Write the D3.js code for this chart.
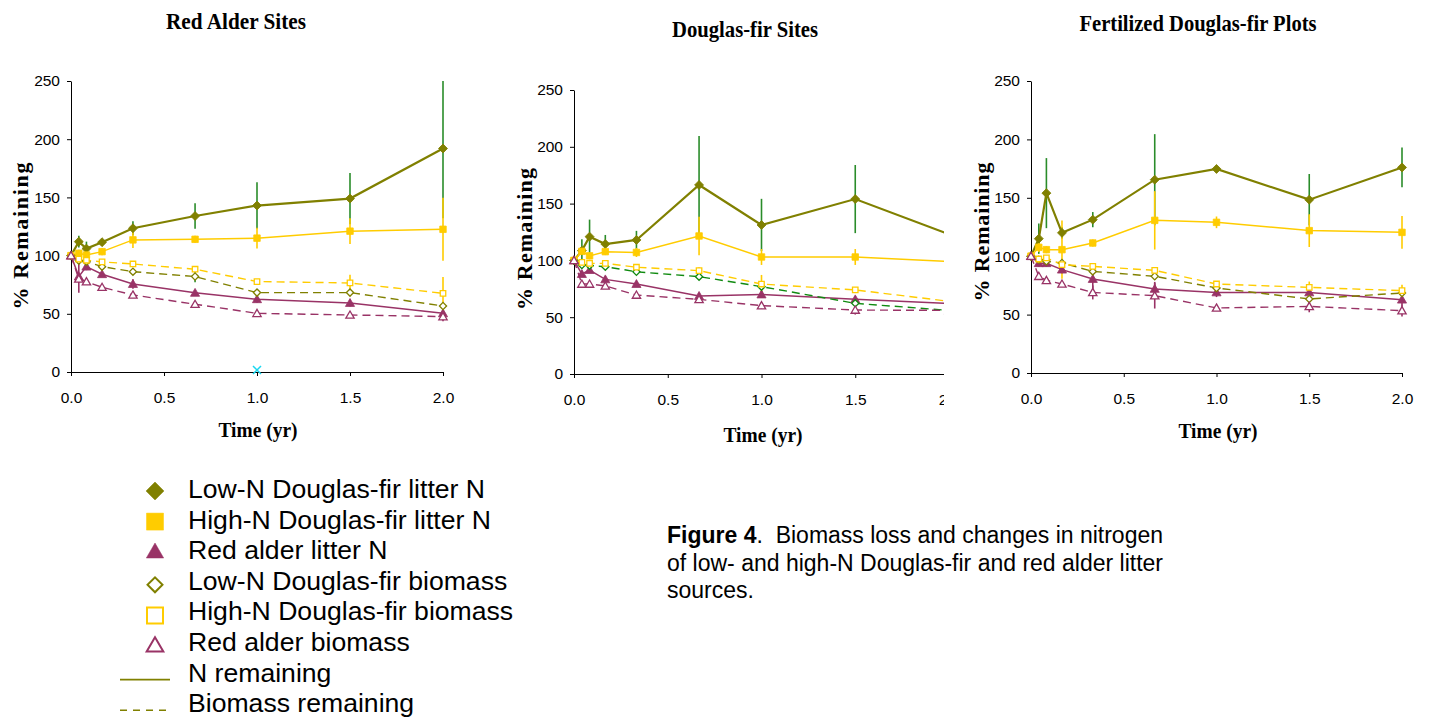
<!DOCTYPE html>
<html>
<head>
<meta charset="utf-8">
<script src="https://cdn.jsdelivr.net/npm/d3@7"></script>
<style>
  body { margin: 0; background: #fff; }
  svg { display: block; }
  .tick text { font-family: "Liberation Sans", Arial, sans-serif; font-size: 15.5px; fill: #000; }
  .tick line, .domain { stroke: #000; stroke-width: 1px; }
</style>
</head>
<body>
<script>
// time points (yr)
const times = [0, 0.042, 0.083, 0.167, 0.333, 0.667, 1, 1.5, 2];
const xTicks = [0, 0.5, 1, 1.5, 2];
const yTicks = [0, 50, 100, 150, 200, 250];
const panelTitles = ["Red Alder Sites", "Douglas-fir Sites", "Fertilized Douglas-fir Plots"];
const legendLabels = [
  "Low-N Douglas-fir litter N", "High-N Douglas-fir litter N", "Red alder litter N",
  "Low-N Douglas-fir biomass", "High-N Douglas-fir biomass", "Red alder biomass",
  "N remaining", "Biomass remaining"
];

// Red Alder Sites
const raLowN      = [100, 112, 106, 111.5, 123.5, 134, 143, 149, 192];
const raLowNErr   = [0, 5, 6, 3, 6, 11, 20, 22, 60];
const raHighN     = [100, 102, 100.5, 103.4, 113.5, 114, 115, 121, 122.6];
const raHighNErr  = [0, 3, 3, 3, 7, 3, 9, 11, 27];
const raAlderN    = [100, 82, 90.5, 84, 75.6, 68, 62.5, 59.3, 50.4];
const raAlderNErr = [0, 14, 3, 2, 4, 2, 3, 3, 3];
const raLowB      = [100, 95.7, 94.8, 90.5, 86.2, 82, 68.2, 68.2, 56.7];
const raLowBErr   = [0, 2, 2, 3, 2, 5, 2, 2, 2];
const raHighB     = [100, 97, 96, 94.6, 92.8, 88.3, 77.7, 76.5, 67.6];
const raHighBErr  = [0, 2, 2, 2, 2, 2, 2, 7, 14];
const raAlderB    = [100, 80, 77.6, 72.8, 66.2, 58.2, 50.4, 49, 47.6];
const raAlderBErr = [0, 2, 2, 2, 2, 2, 2, 2, 4];

// Douglas-fir Sites
const dfLowN      = [100, 108.6, 120.9, 114.4, 118, 166.4, 131.2, 154, 123];
const dfLowNErr   = [0, 10, 15, 8, 8, 43, 23, 30, 20];
const dfHighN     = [100, 108, 104, 107.7, 107, 121.5, 103, 103, 99];
const dfHighNErr  = [0, 3, 3, 3, 4, 17, 7, 7, 4];
const dfAlderN    = [100, 88, 91.5, 83.3, 79.2, 68.7, 70, 65.7, 62];
const dfAlderNErr = [0, 2, 2, 3, 2, 2, 3, 3, 2];
const dfLowB      = [100, 96, 95.4, 94.5, 90, 85.7, 76.9, 62.2, 56];
const dfLowBErr   = [0, 3, 2, 3, 2, 2, 2, 3, 2];
const dfHighB     = [100, 98.3, 97.4, 97.4, 94, 91, 79.2, 74, 64];
const dfHighBErr  = [0, 2, 2, 2, 2, 3, 8, 2, 2];
const dfAlderB    = [100, 79.2, 79.2, 77.5, 69.5, 65.7, 60.2, 56.3, 56];
const dfAlderBErr = [0, 2, 2, 2, 2, 3, 3, 4, 2];

// Fertilized Douglas-fir Plots
const fdLowN      = [100, 115, 154, 120, 131.3, 165.5, 174.7, 148.4, 176];
const fdLowNErr   = [0, 13, 30, 5, 6.5, 39, 2, 22, 17];
const fdHighN     = [100, 107.6, 105.6, 105.6, 111.3, 130.7, 129, 121.9, 120.4];
const fdHighNErr  = [0, 4, 3, 25, 3, 25, 5, 14, 14];
const fdAlderN    = [100, 94, 94, 88.5, 80.5, 72, 69, 69, 62.8];
const fdAlderNErr = [0, 3, 3, 3, 8, 6, 4, 7, 5];
const fdLowB      = [100, 97, 95.6, 94.2, 87, 82.8, 72.8, 63.4, 68.5];
const fdLowBErr   = [0, 2, 2, 2, 2, 3, 2, 2, 2];
const fdHighB     = [100, 97.6, 98.5, 92.8, 91.3, 87.9, 76.2, 73.3, 70.5];
const fdHighBErr  = [0, 2, 2, 2, 2, 2, 2, 5, 5];
const fdAlderB    = [100, 82.8, 79.3, 76.2, 69, 66.2, 55.7, 57, 53.4];
const fdAlderBErr = [0, 2, 2, 2, 6, 11, 2, 5, 5];

// stray marker in the first panel (time, value)
const strayPoint = [1, 0];

const panelValues = [
  [raLowN, raHighN, raAlderN, raLowB, raHighB, raAlderB],
  [dfLowN, dfHighN, dfAlderN, dfLowB, dfHighB, dfAlderB],
  [fdLowN, fdHighN, fdAlderN, fdLowB, fdHighB, fdAlderB]
];
const panelErrors = [
  [raLowNErr, raHighNErr, raAlderNErr, raLowBErr, raHighBErr, raAlderBErr],
  [dfLowNErr, dfHighNErr, dfAlderNErr, dfLowBErr, dfHighBErr, dfAlderBErr],
  [fdLowNErr, fdHighNErr, fdAlderNErr, fdLowBErr, fdHighBErr, fdAlderBErr]
];

/** look of each series */
const OLIVE = "#808000", YELLOW = "#ffcc00", PURPLE = "#993366", GREEN = "#2a8c2a";
const styles = [
  {color: OLIVE,  err: GREEN,  shape: "diamond",  filled: true,  dash: null,  width: 2.2, size: 40},
  {color: YELLOW, err: YELLOW, shape: "square",   filled: true,  dash: null,  width: 1.5, size: 42},
  {color: PURPLE, err: PURPLE, shape: "triangle", filled: true,  dash: null,  width: 1.5, size: 36},
  {color: OLIVE,  err: GREEN,  shape: "diamond",  filled: false, dash: "8,5", width: 1.4, size: 26},
  {color: YELLOW, err: YELLOW, shape: "square",   filled: false, dash: "8,5", width: 1.4, size: 30},
  {color: PURPLE, err: PURPLE, shape: "triangle", filled: false, dash: "8,5", width: 1.4, size: 30}
];

/** where each panel sits on the page */
const layout = [
  {x0: 71,   x1: 443,  y0: 372, y1: 81, titleX: 236,  titleY: 29, titleW: 140, yLabX: 28,  yLabY: 236, yLabW: 147, tX: 258,  tY: 437, lowBColor: OLIVE, clip: null},
  {x0: 574,  x1: 949,  y0: 374, y1: 90, titleX: 745,  titleY: 37, titleW: 146, yLabX: 532, yLabY: 239, yLabW: 142, tX: 763,  tY: 442, lowBColor: "#108a10", clip: 944},
  {x0: 1031, x1: 1402, y0: 373, y1: 81, titleX: 1198, titleY: 31, titleW: 237, yLabX: 989, yLabY: 232, yLabW: 139, tX: 1218, tY: 438, lowBColor: OLIVE, clip: null}
];

const svg = d3.select("body").append("svg")
  .attr("width", 1429)
  .attr("height", 719);

function symbolPath(shape, size) {
  let type = d3.symbolSquare;
  if (shape === "triangle") type = d3.symbolTriangle;
  return d3.symbol().type(type).size(size)();
}
function markerTransform(shape, x, y) {
  if (shape === "diamond") return `translate(${x},${y}) rotate(45)`;
  if (shape === "triangle") return `translate(${x},${y + 0.8})`;
  return `translate(${x},${y})`;
}

layout.forEach((L, p) => {
  let g = svg.append("g");
  if (L.clip) {
    svg.append("clipPath").attr("id", "clip" + p)
      .append("rect").attr("x", 0).attr("y", 0).attr("width", L.clip).attr("height", 719);
    g.attr("clip-path", `url(#clip${p})`);
  }

  let x = d3.scaleLinear().domain([0, 2]).range([L.x0, L.x1]);
  let y = d3.scaleLinear().domain([0, 250]).range([L.y0, L.y1]);

  g.append("g")
    .attr("transform", `translate(0,${L.y0})`)
    .call(d3.axisBottom(x).tickValues(xTicks).tickFormat(d3.format(".1f")).tickSize(4).tickPadding(16).tickSizeOuter(0));
  g.append("g")
    .attr("transform", `translate(${L.x0},0)`)
    .call(d3.axisLeft(y).tickValues(yTicks).tickSize(4).tickPadding(7).tickSizeOuter(0));

  // titles
  g.append("text")
    .attr("x", L.titleX).attr("y", L.titleY)
    .attr("text-anchor", "middle")
    .attr("textLength", L.titleW).attr("lengthAdjust", "spacingAndGlyphs")
    .style("font-family", "'Liberation Serif', 'Times New Roman', serif")
    .style("font-weight", "bold").style("font-size", "24px")
    .text(panelTitles[p]);
  g.append("text")
    .attr("transform", `translate(${L.yLabX},${L.yLabY}) rotate(-90)`)
    .attr("text-anchor", "middle")
    .attr("textLength", L.yLabW).attr("lengthAdjust", "spacing")
    .style("font-family", "'Liberation Serif', 'Times New Roman', serif")
    .style("font-weight", "bold").style("font-size", "22px")
    .text("% Remaining");
  g.append("text")
    .attr("x", L.tX).attr("y", L.tY)
    .attr("text-anchor", "middle")
    .attr("textLength", 79).attr("lengthAdjust", "spacingAndGlyphs")
    .style("font-family", "'Liberation Serif', 'Times New Roman', serif")
    .style("font-weight", "bold").style("font-size", "21px")
    .text("Time (yr)");

  let plot = g.append("g");
  let values = panelValues[p];
  let errs = panelErrors[p];

  // error bars, then lines, then markers
  values.forEach((vals, s) => {
    let st = styles[s];
    let errColor = (s === 3 && p === 1) ? L.lowBColor : st.err;
    plot.append("g").selectAll("line")
      .data(vals.map((v, i) => ({t: times[i], v: v, e: errs[s][i]})).filter(d => d.e > 0))
      .enter().append("line")
      .attr("x1", d => x(d.t)).attr("x2", d => x(d.t))
      .attr("y1", d => y(Math.min(250, d.v + d.e)))
      .attr("y2", d => y(Math.max(0, d.v - d.e)))
      .attr("stroke", errColor).attr("stroke-width", 1.6);
  });

  values.forEach((vals, s) => {
    let st = styles[s];
    let color = (s === 3) ? L.lowBColor : st.color;
    let line = d3.line().x((v, i) => x(times[i])).y(v => y(v));
    plot.append("path")
      .datum(vals)
      .attr("d", line)
      .attr("fill", "none")
      .attr("stroke", color)
      .attr("stroke-width", st.width)
      .attr("stroke-dasharray", st.dash);
  });

  values.forEach((vals, s) => {
    let st = styles[s];
    let color = (s === 3) ? L.lowBColor : st.color;
    plot.append("g").selectAll("path")
      .data(vals)
      .enter().append("path")
      .attr("d", symbolPath(st.shape, st.size))
      .attr("transform", (v, i) => markerTransform(st.shape, x(times[i]), y(v)))
      .attr("fill", st.filled ? color : "#fff")
      .attr("stroke", color)
      .attr("stroke-width", st.filled ? 0.8 : 1.3);
  });

  if (p === 0) {
    plot.append("path")
      .attr("d", "M-4,-4L4,4M-4,4L4,-4")
      .attr("transform", `translate(${x(strayPoint[0])},${y(strayPoint[1]) - 2})`)
      .attr("stroke", "#19d7f0").attr("stroke-width", 1.5);
  }
});

// legend
let legend = svg.append("g");
const legendSizes = [160, 289, 130, 112, 256, 120];
legendLabels.forEach((label, i) => {
  let by = 498 + i * 30.6;
  legend.append("text")
    .attr("x", 188).attr("y", by)
    .style("font-family", "'Liberation Sans', Arial, sans-serif")
    .style("font-size", "26.6px")
    .text(label);
  if (i < 6) {
    let st = styles[i];
    legend.append("path")
      .attr("d", symbolPath(st.shape, legendSizes[i]))
      .attr("transform", markerTransform(st.shape, 155, by - 7 + (i >= 3 ? 2 : 0)))
      .attr("fill", st.filled ? st.color : "#fff")
      .attr("stroke", st.color)
      .attr("stroke-width", st.filled ? 0.5 : 2);
  } else {
    legend.append("line")
      .attr("x1", 120).attr("x2", 170)
      .attr("y1", by - 2).attr("y2", by - 2)
      .attr("stroke", OLIVE).attr("stroke-width", 1.6)
      .attr("stroke-dasharray", i === 7 ? "7,6" : null);
  }
});

// caption
let cap = svg.append("text")
  .style("font-family", "'Liberation Sans', Arial, sans-serif")
  .style("font-size", "23px");
cap.append("tspan").attr("x", 667).attr("y", 543).style("font-weight", "bold").text("Figure 4");
cap.append("tspan").text(".\u00a0 Biomass loss and changes in nitrogen");
cap.append("tspan").attr("x", 667).attr("y", 571).text("of low- and high-N Douglas-fir and red alder litter");
cap.append("tspan").attr("x", 667).attr("y", 598).text("sources.");
</script>
</body>
</html>
